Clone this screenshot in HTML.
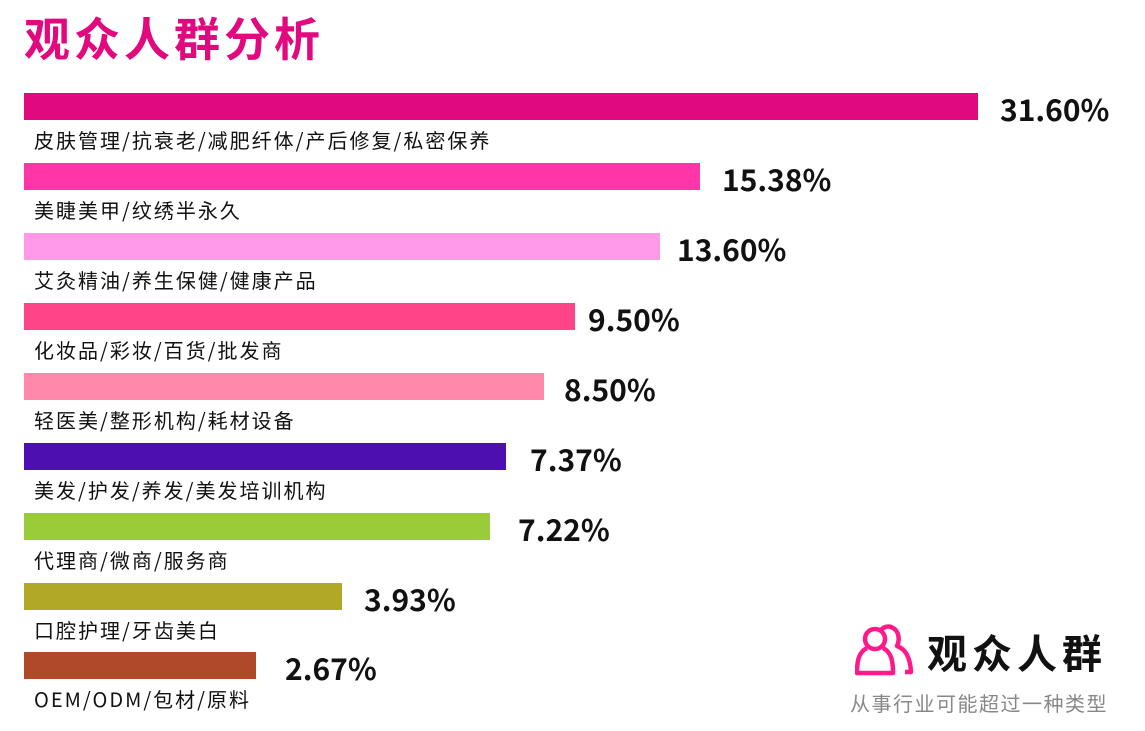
<!DOCTYPE html>
<html><head><meta charset="utf-8"><style>
body{margin:0;width:1145px;height:731px;background:#fff;position:relative;overflow:hidden;font-family:"Noto Sans CJK SC","Liberation Sans",sans-serif}
.t{position:absolute;left:24px;top:4px;font-size:46px;font-weight:bold;color:#e2097f;letter-spacing:4px}
.b{position:absolute;left:24px;height:27px}
.v{position:absolute;font-size:30px;font-weight:bold;color:#111;line-height:27px}
.l{position:absolute;left:34px;font-size:20px;color:#111;line-height:20px;letter-spacing:2px}
</style></head><body>
<div class="t">观众人群分析</div>

<div class="b" style="top:93px;width:954px;background:#e0097f"></div><div class="v" style="top:95px;left:1000px">31.60%</div><div class="l" style="top:130px">皮肤管理/抗衰老/减肥纤体/产后修复/私密保养</div>
<div class="b" style="top:163px;width:676px;background:#ff35a8"></div><div class="v" style="top:165px;left:722px">15.38%</div><div class="l" style="top:200px">美睫美甲/纹绣半永久</div>
<div class="b" style="top:233px;width:636px;background:#ff99e8"></div><div class="v" style="top:235px;left:677px">13.60%</div><div class="l" style="top:270px">艾灸精油/养生保健/健康产品</div>
<div class="b" style="top:303px;width:551px;background:#ff4487"></div><div class="v" style="top:305px;left:588px">9.50%</div><div class="l" style="top:340px">化妆品/彩妆/百货/批发商</div>
<div class="b" style="top:373px;width:520px;background:#ff88ab"></div><div class="v" style="top:375px;left:564px">8.50%</div><div class="l" style="top:410px">轻医美/整形机构/耗材设备</div>
<div class="b" style="top:443px;width:482px;background:#4e0fb0"></div><div class="v" style="top:445px;left:530px">7.37%</div><div class="l" style="top:480px">美发/护发/养发/美发培训机构</div>
<div class="b" style="top:513px;width:466px;background:#99cc38"></div><div class="v" style="top:515px;left:518px">7.22%</div><div class="l" style="top:550px">代理商/微商/服务商</div>
<div class="b" style="top:583px;width:318px;background:#b2a828"></div><div class="v" style="top:585px;left:364px">3.93%</div><div class="l" style="top:620px">口腔护理/牙齿美白</div>
<div class="b" style="top:652px;width:232px;background:#b0482a"></div><div class="v" style="top:654px;left:285px">2.67%</div><div class="l" style="top:689px">OEM/ODM/包材/原料</div>

<svg style="position:absolute;left:855px;top:622px" width="60" height="56" viewBox="0 0 60 56">
<g fill="none" stroke="#ff1a8c" stroke-width="4.5" stroke-linejoin="round">
<path d="M26 8 a9 9 0 0 1 12 -2 c6 3 7 12 4 18 c8 3 13 10 14 26 h-6"/>
<circle cx="20" cy="17" r="10"/>
<path d="M12 26 c-8 4 -10 12 -10 25 h36 c0 -13 -2 -21 -10 -25"/>
</g></svg>
<div style="position:absolute;left:927px;top:622px;font-size:40px;font-weight:bold;color:#111;letter-spacing:5px">观众人群</div>
<div style="position:absolute;left:850px;top:688px;font-size:20px;color:#888;letter-spacing:1.5px">从事行业可能超过一种类型</div>
</body></html>
